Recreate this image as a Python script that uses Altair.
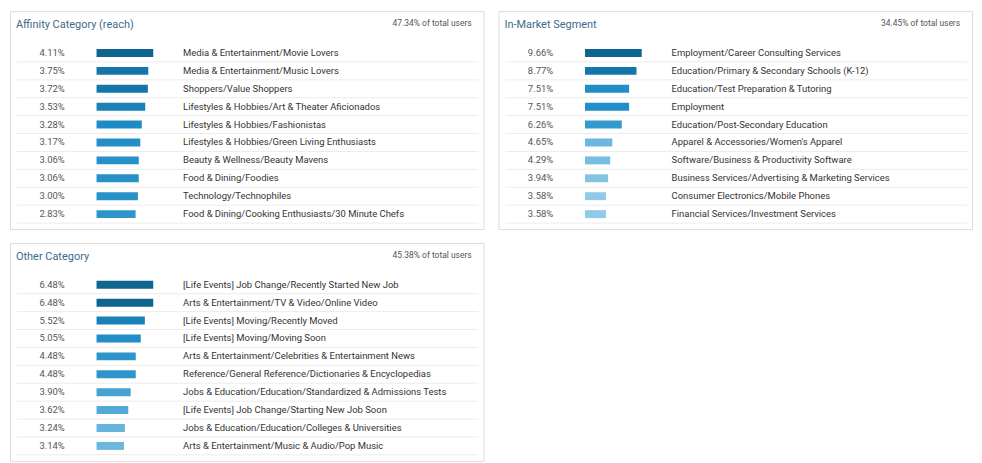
import altair as alt
import pandas as pd

# ---- data ----
affinity_title = "Affinity Category (reach)"
affinity_total = "47.34% of total users"
affinity_labels = [
    "Media & Entertainment/Movie Lovers",
    "Media & Entertainment/Music Lovers",
    "Shoppers/Value Shoppers",
    "Lifestyles & Hobbies/Art & Theater Aficionados",
    "Lifestyles & Hobbies/Fashionistas",
    "Lifestyles & Hobbies/Green Living Enthusiasts",
    "Beauty & Wellness/Beauty Mavens",
    "Food & Dining/Foodies",
    "Technology/Technophiles",
    "Food & Dining/Cooking Enthusiasts/30 Minute Chefs",
]
affinity_values = [4.11, 3.75, 3.72, 3.53, 3.28, 3.17, 3.06, 3.06, 3.00, 2.83]

inmarket_title = "In-Market Segment"
inmarket_total = "34.45% of total users"
inmarket_labels = [
    "Employment/Career Consulting Services",
    "Education/Primary & Secondary Schools (K-12)",
    "Education/Test Preparation & Tutoring",
    "Employment",
    "Education/Post-Secondary Education",
    "Apparel & Accessories/Women's Apparel",
    "Software/Business & Productivity Software",
    "Business Services/Advertising & Marketing Services",
    "Consumer Electronics/Mobile Phones",
    "Financial Services/Investment Services",
]
inmarket_values = [9.66, 8.77, 7.51, 7.51, 6.26, 4.65, 4.29, 3.94, 3.58, 3.58]

other_title = "Other Category"
other_total = "45.38% of total users"
other_labels = [
    "[Life Events] Job Change/Recently Started New Job",
    "Arts & Entertainment/TV & Video/Online Video",
    "[Life Events] Moving/Recently Moved",
    "[Life Events] Moving/Moving Soon",
    "Arts & Entertainment/Celebrities & Entertainment News",
    "Reference/General Reference/Dictionaries & Encyclopedias",
    "Jobs & Education/Education/Standardized & Admissions Tests",
    "[Life Events] Job Change/Starting New Job Soon",
    "Jobs & Education/Education/Colleges & Universities",
    "Arts & Entertainment/Music & Audio/Pop Music",
]
other_values = [6.48, 6.48, 5.52, 5.05, 4.48, 4.48, 3.90, 3.62, 3.24, 3.14]

# ---- styling ----
W = 476
H = 219
FONT = "Roboto"
color_domain = [0.37, 0.5, 0.65, 0.8, 0.91, 1.0]
color_range = ["#8fcbe6", "#66b4dc", "#3399cc", "#1f8bc6", "#1576a8", "#0e6590"]


def panel(title, total, labels, values):
    df = pd.DataFrame({"label": labels, "value": values, "row": list(range(len(labels)))})
    yenc = alt.Y("row:O", axis=None,
                 scale=alt.Scale(range=[33, 213], paddingInner=0, paddingOuter=0))
    base = (alt.Chart(df)
            .transform_joinaggregate(maxv="max(value)")
            .transform_calculate(ratio="datum.value / datum.maxv",
                                 pct="format(datum.value, '.2f') + '%'"))

    rules = base.mark_rule(color="#ececec", strokeWidth=1).encode(
        y=alt.Y("row:O", axis=None, bandPosition=1),
        x=alt.value(7), x2=alt.value(W - 5))

    bars = base.mark_bar(size=8).encode(
        y=yenc,
        x=alt.X("ratio:Q", axis=None, scale=alt.Scale(domain=[0, 1], range=[87, 144])),
        x2=alt.datum(0),
        color=alt.Color("ratio:Q", legend=None,
                        scale=alt.Scale(domain=color_domain, range=color_range)))

    pct = base.mark_text(align="right", baseline="middle", font=FONT,
                         fontSize=9.5, color="#555555").encode(
        y=yenc, x=alt.value(55), text="pct:N")

    lab = base.mark_text(align="left", baseline="middle", font=FONT,
                         fontSize=9.5, color="#333333").encode(
        y=yenc, x=alt.value(174), text="label:N")

    hdr = pd.DataFrame({"t": [title], "s": [total]})
    ttl = alt.Chart(hdr).mark_text(align="left", baseline="middle", font=FONT,
                                   fontSize=11, color="#3d6a8a").encode(
        x=alt.value(6), y=alt.value(14), text="t:N")
    sub = alt.Chart(hdr).mark_text(align="right", baseline="middle", font=FONT,
                                   fontSize=8.5, color="#555555").encode(
        x=alt.value(W - 12), y=alt.value(12), text="s:N")

    return alt.layer(rules, bars, pct, lab, ttl, sub).properties(width=W, height=H)


p1 = panel(affinity_title, affinity_total, affinity_labels, affinity_values)
p2 = panel(inmarket_title, inmarket_total, inmarket_labels, inmarket_values)
p3 = panel(other_title, other_total, other_labels, other_values)

chart = (alt.vconcat(alt.hconcat(p1, p2, spacing=13), p3, spacing=12)
         .properties(padding={"left": 1, "top": 1, "right": 1, "bottom": 1},
                     background="white")
         .configure_view(stroke="#dcdcdc", strokeWidth=1))

chart.save("out.html", embed_options={"renderer": "svg", "actions": False})
